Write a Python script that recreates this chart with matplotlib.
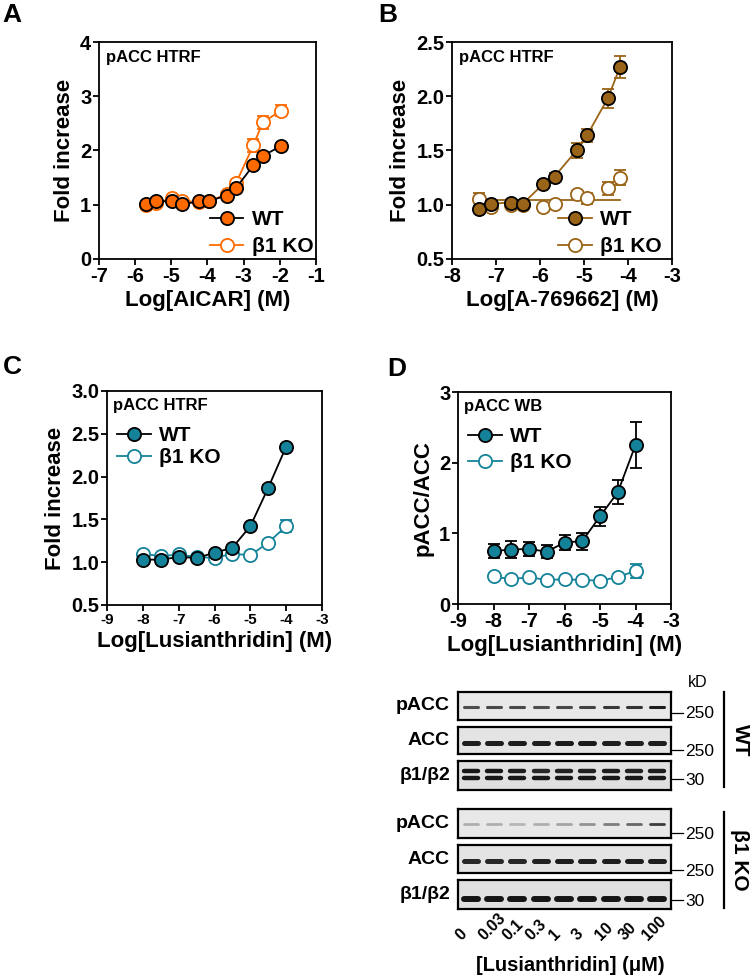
import matplotlib
matplotlib.use("Agg")
import matplotlib.pyplot as plt

plt.rcParams['font.family'] = ['Liberation Sans', 'DejaVu Sans']
plt.rcParams['font.weight'] = 'bold'

W, H = 750, 980

# ---- data ----
a_x = [-5.70, -5.42, -4.97, -4.70, -4.23, -3.96, -3.47, -3.21, -2.73, -2.47, -1.98]
a_wt = [1.01, 1.07, 1.06, 1.01, 1.06, 1.07, 1.17, 1.31, 1.73, 1.90, 2.08]
a_wt_err = [0.02, 0.02, 0.02, 0.02, 0.02, 0.02, 0.03, 0.03, 0.04, 0.04, 0.03]
a_ko = [1.00, 1.03, 1.12, 1.07, 1.05, 1.06, 1.20, 1.40, 2.10, 2.52, 2.73]
a_ko_err = [0.02, 0.03, 0.04, 0.03, 0.02, 0.03, 0.04, 0.05, 0.12, 0.12, 0.10]

b_x = [-7.38, -7.12, -6.65, -6.39, -5.93, -5.67, -5.17, -4.93, -4.46, -4.18]
b_wt = [0.96, 1.01, 1.02, 1.01, 1.19, 1.26, 1.50, 1.64, 1.98, 2.27]
b_wt_err = [0.02, 0.02, 0.02, 0.02, 0.03, 0.03, 0.07, 0.06, 0.09, 0.10]
b_ko = [1.05, 0.98, 1.00, 1.00, 0.98, 1.01, 1.10, 1.06, 1.15, 1.25]
b_ko_err = [0.06, 0.02, 0.02, 0.02, 0.02, 0.02, 0.03, 0.05, 0.06, 0.07]
b_ko_fit_x = [-7.38, -4.18]
b_ko_fit_y = [1.04, 1.04]

c_x = [-8, -7.5, -7, -6.5, -6, -5.5, -5, -4.5, -4]
c_wt = [1.03, 1.03, 1.06, 1.05, 1.11, 1.17, 1.42, 1.87, 2.35]
c_wt_err = [0.02, 0.02, 0.02, 0.02, 0.02, 0.02, 0.03, 0.03, 0.03]
c_ko = [1.10, 1.07, 1.09, 1.06, 1.05, 1.10, 1.08, 1.23, 1.42]
c_ko_err = [0.02, 0.02, 0.02, 0.02, 0.02, 0.02, 0.02, 0.03, 0.07]

d_x = [-8, -7.5, -7, -6.5, -6, -5.5, -5, -4.5, -4]
d_wt = [0.75, 0.77, 0.78, 0.74, 0.87, 0.89, 1.24, 1.58, 2.25]
d_wt_err = [0.10, 0.12, 0.10, 0.09, 0.10, 0.12, 0.13, 0.17, 0.33]
d_ko = [0.39, 0.35, 0.38, 0.34, 0.35, 0.34, 0.33, 0.38, 0.47]
d_ko_err = [0.03, 0.02, 0.03, 0.02, 0.02, 0.02, 0.02, 0.04, 0.10]

lanes = ['0', '0.03', '0.1', '0.3', '1', '3', '10', '30', '100']
# band darkness per lane (0 = none, 1 = black)
wt_pacc = [0.70, 0.72, 0.72, 0.70, 0.72, 0.75, 0.80, 0.82, 0.92]
wt_acc = [0.92, 0.92, 0.92, 0.92, 0.94, 0.94, 0.92, 0.92, 0.92]
wt_b1 = [0.95, 0.95, 0.92, 0.88, 0.90, 0.90, 0.92, 0.90, 0.92]
wt_b2 = [0.95, 0.95, 0.95, 0.95, 0.95, 0.95, 0.95, 0.95, 0.95]
ko_pacc = [0.25, 0.25, 0.22, 0.25, 0.30, 0.38, 0.48, 0.58, 0.78]
ko_acc = [0.88, 0.88, 0.88, 0.90, 0.92, 0.92, 0.92, 0.92, 0.92]
ko_b2 = [0.96, 0.96, 0.96, 0.96, 0.96, 0.96, 0.96, 0.96, 0.96]

ORANGE = '#FF6A00'
BROWN = '#9A6418'
TEAL = '#148399'


def px_axes(l, t, r, b):
    return fig.add_axes([l / W, 1 - b / H, (r - l) / W, (b - t) / H])


def fpos(x, y):
    return x / W, 1 - y / H


def style(ax, xlim, xticks, ylim, yticks, yfmt, xls=14.5):
    ax.set_xlim(xlim)
    ax.set_ylim(ylim)
    ax.set_xticks(xticks)
    ax.set_xticklabels([str(t) for t in xticks], fontsize=xls, fontweight='bold')
    ax.set_yticks(yticks)
    ax.set_yticklabels([yfmt.format(t) for t in yticks], fontsize=14.5, fontweight='bold')
    for s in ax.spines.values():
        s.set_linewidth(1.3)
    ax.tick_params(direction='out', length=4, width=1.3, pad=1.5)


def series(ax, x, y, err, face, edge, line, ecol, z):
    ax.errorbar(x, y, yerr=err, fmt='none', ecolor=ecol, elinewidth=1.3,
                capsize=4.5, capthick=1.3, zorder=z)
    ax.plot(x, y, color=line, lw=1.3, zorder=z + 0.1)
    ax.plot(x, y, 'o', ms=9.5, mfc=face, mec=edge, mew=1.3, zorder=z + 0.2)


def leg_handles(ax, wt_face, wt_line, ko_col):
    h1, = ax.plot([], [], '-o', color=wt_line, ms=9.5, mfc=wt_face, mec='black', mew=1.3, lw=1.3)
    h2, = ax.plot([], [], '-o', color=ko_col, ms=9.5, mfc='white', mec=ko_col, mew=1.3, lw=1.3)
    return [h1, h2]


fig = plt.figure(figsize=(7.5, 9.8), dpi=100)

# ---- A ----
ax = px_axes(99, 42, 316, 259)
series(ax, a_x, a_ko, a_ko_err, 'white', ORANGE, ORANGE, ORANGE, 2)
series(ax, a_x, a_wt, a_wt_err, ORANGE, 'black', 'black', 'black', 3)
style(ax, (-7, -1), [-7, -6, -5, -4, -3, -2, -1], (0, 4), [0, 1, 2, 3, 4], '{:d}')
ax.set_ylabel('Fold increase', fontsize=16, fontweight='bold', labelpad=4)
ax.set_xlabel('Log[AICAR] (M)', fontsize=16, fontweight='bold', labelpad=3)
ax.text(0.03, 0.93, 'pACC HTRF', transform=ax.transAxes, fontsize=12, fontweight='bold', va='center')
ax.legend(leg_handles(ax, ORANGE, 'black', ORANGE), ['WT', 'β1 KO'], loc='lower right',
          bbox_to_anchor=(1.035, -0.035), frameon=False, handlelength=1.6, handletextpad=0.4,
          borderaxespad=0.1, labelspacing=0.4, prop={'weight': 'bold', 'size': 15})

# ---- B ----
ax = px_axes(452, 42, 672, 259)
ax.plot(b_ko_fit_x, b_ko_fit_y, color=BROWN, lw=1.3, zorder=1)
ax.errorbar(b_x, b_ko, yerr=b_ko_err, fmt='none', ecolor=BROWN, elinewidth=1.3, capsize=4.5, capthick=1.3, zorder=2)
ax.plot(b_x, b_ko, 'o', ms=9.5, mfc='white', mec=BROWN, mew=1.3, zorder=2.2)
series(ax, b_x, b_wt, b_wt_err, BROWN, 'black', BROWN, BROWN, 3)
style(ax, (-8, -3), [-8, -7, -6, -5, -4, -3], (0.5, 2.5), [0.5, 1.0, 1.5, 2.0, 2.5], '{:.1f}')
ax.set_ylabel('Fold increase', fontsize=16, fontweight='bold', labelpad=4)
ax.set_xlabel('Log[A-769662] (M)', fontsize=16, fontweight='bold', labelpad=3)
ax.text(0.03, 0.93, 'pACC HTRF', transform=ax.transAxes, fontsize=12, fontweight='bold', va='center')
ax.legend(leg_handles(ax, BROWN, BROWN, BROWN), ['WT', 'β1 KO'], loc='lower right',
          bbox_to_anchor=(1.0, -0.035), frameon=False, handlelength=1.6, handletextpad=0.4,
          borderaxespad=0.1, labelspacing=0.4, prop={'weight': 'bold', 'size': 15})

# ---- C ----
ax = px_axes(107, 391, 322, 605)
series(ax, c_x, c_ko, c_ko_err, 'white', TEAL, TEAL, TEAL, 2)
series(ax, c_x, c_wt, c_wt_err, TEAL, 'black', 'black', 'black', 3)
style(ax, (-9, -3), [-9, -8, -7, -6, -5, -4, -3], (0.5, 3.0), [0.5, 1.0, 1.5, 2.0, 2.5, 3.0], '{:.1f}', xls=11)
ax.set_ylabel('Fold increase', fontsize=16, fontweight='bold', labelpad=4)
ax.set_xlabel('Log[Lusianthridin] (M)', fontsize=16, fontweight='bold', labelpad=3)
ax.text(0.03, 0.93, 'pACC HTRF', transform=ax.transAxes, fontsize=12, fontweight='bold', va='center')
ax.legend(leg_handles(ax, TEAL, 'black', TEAL), ['WT', 'β1 KO'], loc='upper left',
          bbox_to_anchor=(0.0, 0.885), frameon=False, handlelength=1.6, handletextpad=0.4,
          borderaxespad=0.1, labelspacing=0.15, prop={'weight': 'bold', 'size': 15})

# ---- D ----
ax = px_axes(458, 392, 671, 604)
series(ax, d_x, d_ko, d_ko_err, 'white', TEAL, TEAL, TEAL, 2)
series(ax, d_x, d_wt, d_wt_err, TEAL, 'black', 'black', 'black', 3)
style(ax, (-9, -3), [-9, -8, -7, -6, -5, -4, -3], (0, 3), [0, 1, 2, 3], '{:d}')
ax.set_ylabel('pACC/ACC', fontsize=16, fontweight='bold', labelpad=4)
ax.set_xlabel('Log[Lusianthridin] (M)', fontsize=16, fontweight='bold', labelpad=3)
ax.text(0.03, 0.93, 'pACC WB', transform=ax.transAxes, fontsize=12, fontweight='bold', va='center')
ax.legend(leg_handles(ax, TEAL, 'black', TEAL), ['WT', 'β1 KO'], loc='upper left',
          bbox_to_anchor=(0.0, 0.885), frameon=False, handlelength=1.6, handletextpad=0.4,
          borderaxespad=0.1, labelspacing=0.35, prop={'weight': 'bold', 'size': 15})

# ---- blots ----
BL, BR = 458, 671
lane_x = [0.55 + i for i in range(len(lanes))]


def blot(top, bottom, label, bands, kd, kd_y, bg):
    ax = px_axes(BL, top, BR, bottom)
    ax.set_xlim(0, 9.14)
    ax.set_ylim(0, 1)
    ax.set_facecolor(bg)
    ax.set_xticks([])
    ax.set_yticks([])
    for s in ax.spines.values():
        s.set_linewidth(1.6)
    for vals, yy, lw in bands:
        for x, v in zip(lane_x, vals):
            g = 0.9 - 0.85 * v
            ax.plot([x - 0.3, x + 0.3], [yy, yy], color=(g, g, g), lw=lw,
                    solid_capstyle='round')
    fig.text(*fpos(450, (top + bottom) / 2), label, ha='right', va='center',
             fontsize=14, fontweight='bold')
    fig.add_artist(plt.Line2D([BR / W, 683 / W], [1 - kd_y / H, 1 - kd_y / H],
                              color='black', lw=0.9))
    fig.text(*fpos(685, kd_y + 1), kd, ha='left', va='center', fontsize=12.5, fontweight='normal')


blot(692, 720, 'pACC', [(wt_pacc, 0.45, 2.2)], '250', 713, '#e8e8e8')
blot(727, 754, 'ACC', [(wt_acc, 0.42, 3.6)], '250', 750, '#e4e4e4')
blot(761, 790, 'β1/β2', [(wt_b1, 0.64, 3.2), (wt_b2, 0.42, 3.2)], '30', 779, '#e0e0e0')
blot(809, 838, 'pACC', [(ko_pacc, 0.5, 2.0)], '250', 833, '#e8e8e8')
blot(845, 873, 'ACC', [(ko_acc, 0.42, 3.6)], '250', 870, '#e4e4e4')
blot(880, 909, 'β1/β2', [(ko_b2, 0.36, 4.3)], '30', 900, '#e0e0e0')

fig.text(*fpos(698, 682), 'kD', ha='center', va='center', fontsize=11.5, fontweight='normal')
fig.add_artist(plt.Line2D([724 / W, 724 / W], [1 - 692 / H, 1 - 787 / H], color='black', lw=1.6))
fig.add_artist(plt.Line2D([724 / W, 724 / W], [1 - 812 / H, 1 - 908 / H], color='black', lw=1.6))
fig.text(*fpos(740, 740), 'WT', rotation=-90, ha='center', va='center', fontsize=15, fontweight='bold')
fig.text(*fpos(740, 860), 'β1 KO', rotation=-90, ha='center', va='center', fontsize=15, fontweight='bold')

for i, lab in enumerate(lanes):
    xp = BL + (lane_x[i] - 0.4) / 9.14 * (BR - BL)
    fig.text(*fpos(xp, 941), lab, rotation=45, rotation_mode='anchor', ha='left',
             va='baseline', fontsize=11.5, fontweight='bold')
fig.text(*fpos(570, 965), '[Lusianthridin] (μM)', ha='center', va='center', fontsize=14.5, fontweight='bold')

# ---- panel letters ----
for lab, x, y in [('A', 12, 15), ('B', 388, 15), ('C', 12, 367), ('D', 397, 369)]:
    fig.text(*fpos(x, y), lab, ha='center', va='center', fontsize=19, fontweight='bold')

fig.savefig('out.png', dpi=100)
